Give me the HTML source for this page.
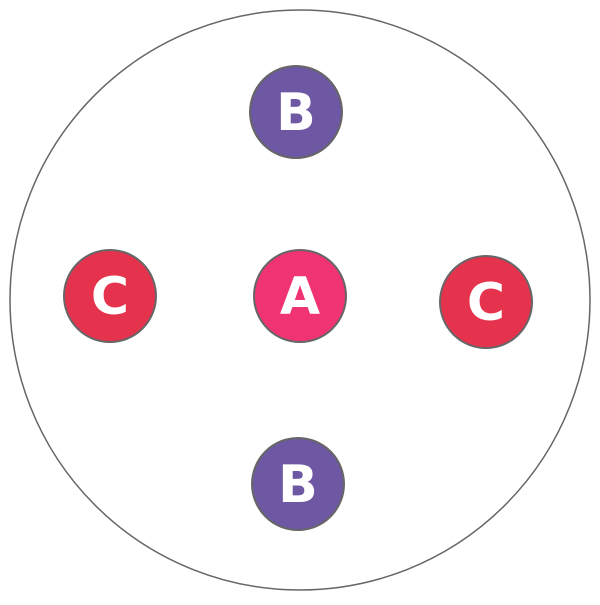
<!DOCTYPE html>
<html><head><style>html,body{margin:0;padding:0;background:#fff}</style></head>
<body>
<svg width="600" height="600" xmlns="http://www.w3.org/2000/svg" font-family="'DejaVu Sans', 'Liberation Sans', sans-serif" font-weight="bold" font-size="52" text-anchor="middle">
<circle cx="300" cy="300" r="290" fill="#fff" stroke="#666" stroke-width="1.5"/>
<g stroke="#666" stroke-width="2">
<circle cx="296" cy="112" r="46" fill="#6e57a3"/>
<circle cx="300" cy="296" r="46" fill="#f03372"/>
<circle cx="110" cy="296" r="46" fill="#e5334e"/>
<circle cx="486" cy="302" r="46" fill="#e5334e"/>
<circle cx="298" cy="484" r="46" fill="#6e57a3"/>
</g>
<g fill="#fff">
<text x="296" y="130">B</text>
<text x="300" y="314">A</text>
<text x="110" y="314">C</text>
<text x="486" y="320">C</text>
<text x="298" y="502">B</text>
</g>
</svg>
</body></html>
